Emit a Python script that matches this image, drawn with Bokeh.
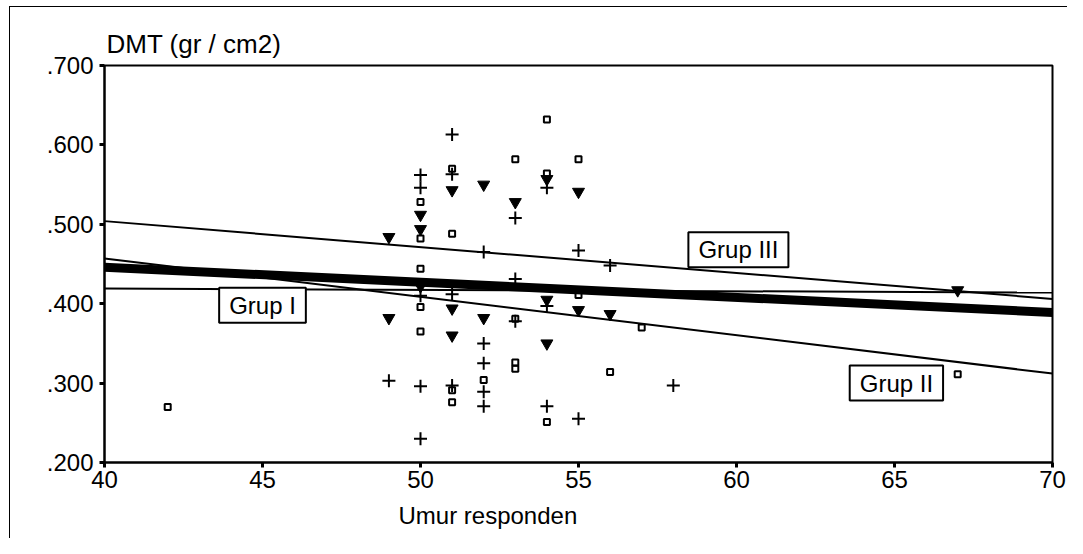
from bokeh.plotting import figure
from bokeh.models import Range1d, FixedTicker, Label, Title
from bokeh.embed import file_html
from bokeh.resources import INLINE

FONT = "Liberation Sans"

# ---- data ----
# open squares
sq_age = [42, 50, 50, 50, 50, 50, 51, 51, 51, 51, 52, 53, 53, 53, 53, 54, 54, 54, 55, 55, 56, 57, 67]
sq_val = [0.270, 0.528, 0.482, 0.444, 0.396, 0.365, 0.570, 0.488, 0.291, 0.276, 0.304,
          0.582, 0.381, 0.326, 0.318, 0.632, 0.564, 0.251, 0.582, 0.411, 0.314, 0.370, 0.311]
# crosses
cr_age = [49, 50, 50, 50, 50, 50, 51, 51, 51, 51, 52, 52, 52, 52, 52, 53, 53, 53, 54, 54, 54, 55, 55, 56, 58]
cr_val = [0.303, 0.562, 0.546, 0.410, 0.296, 0.230, 0.613, 0.563, 0.412, 0.297,
          0.465, 0.350, 0.325, 0.289, 0.271, 0.508, 0.431, 0.378, 0.546, 0.397, 0.271,
          0.467, 0.255, 0.448, 0.297]
# filled inverted triangles
tr_age = [49, 49, 50, 50, 50, 51, 51, 51, 52, 52, 53, 54, 54, 54, 55, 55, 56, 67]
tr_val = [0.484, 0.382, 0.512, 0.494, 0.422, 0.543, 0.394, 0.360, 0.550, 0.382,
          0.528, 0.557, 0.405, 0.350, 0.541, 0.392, 0.387, 0.417]

# regression lines (values at age 40 and age 70)
line_x = [40, 70]
grup1_y = [0.419, 0.414]
grup2_y = [0.457, 0.312]
grup3_y = [0.504, 0.406]
total_y = [0.446, 0.389]

# group labels: name, age, value
grp_names = ["Grup I", "Grup III", "Grup II"]
grp_x = [45.0, 60.06, 65.06]
grp_y = [0.398, 0.468, 0.300]

x_ticks = [40, 45, 50, 55, 60, 65, 70]
y_ticks = [0.2, 0.3, 0.4, 0.5, 0.6, 0.7]
y_tick_labels = [".200", ".300", ".400", ".500", ".600", ".700"]

title_text = "DMT (gr / cm2)"
x_label_text = "Umur responden"

page_frame = ("linear-gradient(#000,#000) 9px 6px / 1px 100% no-repeat, "
              "linear-gradient(#000,#000) 9px 6px / 100% 1px no-repeat, white")

p = figure(width=1067, height=538, output_backend="svg", toolbar_location=None,
           x_range=Range1d(40, 70), y_range=Range1d(0.2, 0.7),
           min_border_left=104, min_border_right=15, min_border_top=65, min_border_bottom=76,
           title=title_text,
           styles={"background": page_frame})

p.title.text_font = FONT
p.title.text_font_size = "26px"
p.title.text_font_style = "normal"
p.title.text_color = "black"
p.title.align = "left"
p.title.offset = 2
p.title.standoff = 13

p.grid.visible = False
p.outline_line_color = "black"
p.outline_line_width = 2
p.background_fill_color = "white"
p.border_fill_color = None

for ax in (p.xaxis[0], p.yaxis[0]):
    ax.axis_line_width = 2
    ax.axis_line_color = "black"
    ax.major_tick_line_width = 3
    ax.major_tick_out = 5
    ax.major_tick_in = 0
    ax.minor_tick_line_color = None
    ax.major_label_text_font = FONT
    ax.major_label_text_font_size = "24px"
    ax.major_label_text_color = "black"

p.xaxis.ticker = FixedTicker(ticks=x_ticks)
p.xaxis.major_label_standoff = 3
p.yaxis.ticker = FixedTicker(ticks=y_ticks)
p.yaxis.major_label_overrides = {t: s for t, s in zip(y_ticks, y_tick_labels)}
p.yaxis.major_label_standoff = 6

# x axis title, placed below the axis
p.add_layout(Title(text=x_label_text, align="left", offset=294, standoff=18,
                   text_font=FONT, text_font_size="24px", text_font_style="normal",
                   text_color="black"), "below")

# regression lines
p.line(line_x, total_y, line_color="black", line_width=9)
p.line(line_x, grup1_y, line_color="black", line_width=2)
p.line(line_x, grup2_y, line_color="black", line_width=2)
p.line(line_x, grup3_y, line_color="black", line_width=2)

# points
p.scatter(sq_age, sq_val, marker="square", size=6, fill_color=None, line_color="black", line_width=2)
p.scatter(cr_age, cr_val, marker="cross", size=13, line_color="black", line_width=2)
p.scatter(tr_age, tr_val, marker="inverted_triangle", size=12, fill_color="black", line_color="black")

# group labels
for name, gx, gy in zip(grp_names, grp_x, grp_y):
    p.add_layout(Label(x=gx, y=gy, text=name, text_font=FONT, text_font_size="24px",
                       text_align="center", text_baseline="middle", text_color="black",
                       background_fill_color="white", border_line_color="black",
                       border_line_width=2,
                       padding=dict(left=10, right=10, top=4, bottom=4)))

open("out.html", "w").write(file_html(p, INLINE))
